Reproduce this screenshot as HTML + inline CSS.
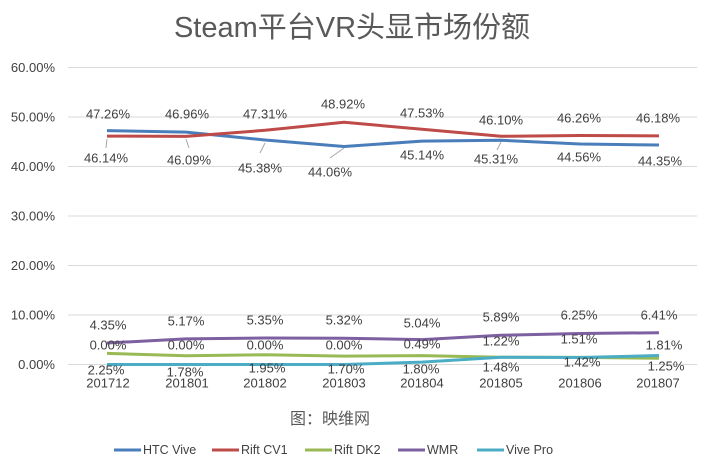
<!DOCTYPE html>
<html><head><meta charset="utf-8"><style>
html,body{margin:0;padding:0;background:#fff;}
svg text{font-family:"Liberation Sans","Noto Sans CJK SC",sans-serif;fill:#404040;}
</style></head><body>
<svg width="705" height="466" viewBox="0 0 705 466" xmlns="http://www.w3.org/2000/svg">
<rect width="705" height="466" fill="#fff"/>
<text x="352" y="37" font-size="29" text-anchor="middle" style="fill:#595959">Steam平台VR头显市场份额</text>
<g stroke="#d9d9d9" stroke-width="1">
<line x1="68" y1="67.5" x2="697" y2="67.5"/>
<line x1="68" y1="117" x2="697" y2="117"/>
<line x1="68" y1="166.5" x2="697" y2="166.5"/>
<line x1="68" y1="216" x2="697" y2="216"/>
<line x1="68" y1="265.5" x2="697" y2="265.5"/>
<line x1="68" y1="315" x2="697" y2="315"/>
<line x1="68" y1="364.5" x2="697" y2="364.5"/>
</g>
<g font-size="13" text-anchor="end" dominant-baseline="central">
<text x="55" y="67.5">60.00%</text>
<text x="55" y="117">50.00%</text>
<text x="55" y="166.5">40.00%</text>
<text x="55" y="216">30.00%</text>
<text x="55" y="265.5">20.00%</text>
<text x="55" y="315">10.00%</text>
<text x="55" y="364.5">0.00%</text>
</g>
<g fill="none" stroke-width="3" stroke-linejoin="round">
<polyline stroke="#4a7ebb" points="107,130.6 186,132.1 265,140.0 344,146.5 422,141.1 501,140.3 580,144.0 659,145.0"/>
<polyline stroke="#be4b48" points="107,136.1 186,136.4 265,130.3 344,122.3 422,129.2 501,136.3 580,135.5 659,135.9"/>
<polyline stroke="#98b954" points="107,353.4 186,355.7 265,354.8 344,356.1 422,355.6 501,357.2 580,357.4 659,358.3"/>
<polyline stroke="#7d60a0" points="107,343.0 186,338.9 265,338.0 344,338.2 422,339.6 501,335.3 580,333.5 659,332.7"/>
<polyline stroke="#4bacc6" points="107,364.5 186,364.5 265,364.5 344,364.5 422,362.1 501,357.2 580,357.5 659,355.5"/>
</g>
<g stroke="#a6a6a6" stroke-width="1">
<line x1="107" y1="139" x2="106" y2="148"/>
<line x1="186" y1="139" x2="189" y2="148"/>
<line x1="265" y1="143" x2="260" y2="153"/>
<line x1="344" y1="148" x2="330" y2="158"/>
<line x1="501" y1="142" x2="497" y2="150"/>
</g>
<g font-size="13" text-anchor="middle" dominant-baseline="central">
<text x="108" y="114">47.26%</text><text x="187" y="114">46.96%</text><text x="265" y="114">47.31%</text><text x="343" y="104">48.92%</text><text x="422" y="113">47.53%</text><text x="501" y="120">46.10%</text><text x="579" y="118">46.26%</text><text x="658" y="118">46.18%</text>
<text x="106" y="158">46.14%</text><text x="189" y="160">46.09%</text><text x="260" y="168">45.38%</text><text x="330" y="172">44.06%</text><text x="422" y="155">45.14%</text><text x="496" y="159">45.31%</text><text x="579" y="157">44.56%</text><text x="660" y="161">44.35%</text>
<text x="108" y="325">4.35%</text><text x="186" y="321">5.17%</text><text x="265" y="320">5.35%</text><text x="344" y="320">5.32%</text><text x="422" y="323">5.04%</text><text x="501" y="317">5.89%</text><text x="579" y="315">6.25%</text><text x="659" y="315">6.41%</text>
<text x="108" y="345">0.00%</text><text x="186" y="345">0.00%</text><text x="265" y="345">0.00%</text><text x="344" y="345">0.00%</text><text x="422" y="344">0.49%</text><text x="501" y="341">1.22%</text><text x="579" y="339">1.51%</text><text x="664" y="345">1.81%</text>
<text x="106" y="370">2.25%</text><text x="185" y="372">1.78%</text><text x="267" y="368">1.95%</text><text x="346" y="369">1.70%</text><text x="421" y="369">1.80%</text><text x="501" y="367">1.48%</text><text x="582" y="362">1.42%</text><text x="666" y="366">1.25%</text>
<text x="108" y="383">201712</text><text x="187" y="383">201801</text><text x="265" y="383">201802</text><text x="344" y="383">201803</text><text x="422" y="383">201804</text><text x="501" y="383">201805</text><text x="580" y="383">201806</text><text x="658" y="383">201807</text>
</g>
<text x="330" y="424" font-size="16" text-anchor="middle" style="fill:#595959">图：映维网</text>
<g stroke-width="3">
<line x1="114" y1="450" x2="141" y2="450" stroke="#4a7ebb"/>
<line x1="212" y1="450" x2="239" y2="450" stroke="#be4b48"/>
<line x1="305" y1="450" x2="332" y2="450" stroke="#98b954"/>
<line x1="398" y1="450" x2="425" y2="450" stroke="#7d60a0"/>
<line x1="477" y1="450" x2="504" y2="450" stroke="#4bacc6"/>
</g>
<g font-size="12.5" dominant-baseline="central">
<text x="143" y="450">HTC Vive</text><text x="241" y="450">Rift CV1</text><text x="334" y="450">Rift DK2</text><text x="427" y="450">WMR</text><text x="506" y="450">Vive Pro</text>
</g>
</svg>
</body></html>
